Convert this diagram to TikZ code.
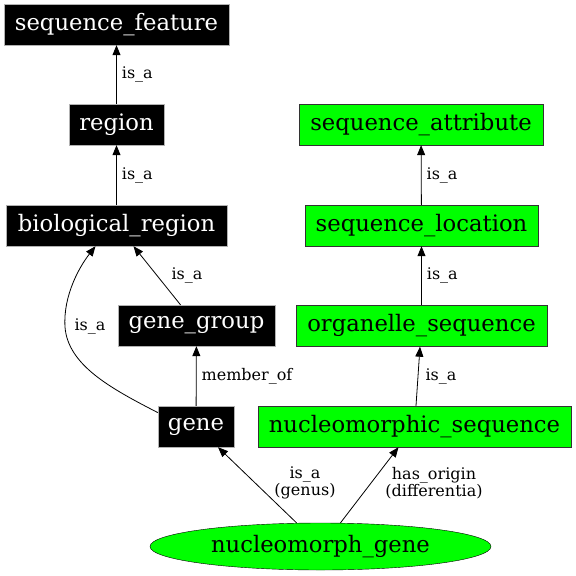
\documentclass[tikz,border=0pt]{standalone}
\usepackage{fontspec}
\setmainfont{DejaVu Serif}
\usetikzlibrary{arrows.meta,shapes.geometric}
\definecolor{gvgreen}{RGB}{0,255,0}
\tikzset{
  x=1pt,y=-1pt,
  blackbox/.style={rectangle,fill=black,draw=gray!60,text=white,inner sep=0pt,
    font=\fontsize{22.7}{24}\selectfont},
  greenbox/.style={rectangle,fill=gvgreen,draw=black!80,text=black,inner sep=0pt,
    font=\fontsize{22.7}{24}\selectfont},
  edge/.style={draw=black,line width=0.8pt,-{Triangle[length=10pt,width=8pt]}},
  elabel/.style={font=\fontsize{16}{17.5}\selectfont,align=center,inner sep=0pt}
}
\begin{document}
\begin{tikzpicture}
\useasboundingbox (0,0) rectangle (576,576);
% black nodes
\node[blackbox,minimum width=225pt,minimum height=41pt] (sf) at (116.5,24.5) {sequence\_feature};
\node[blackbox,minimum width=95pt,minimum height=41pt] (reg) at (116.5,124.5) {region};
\node[blackbox,minimum width=221pt,minimum height=41pt] (bio) at (116.5,225.5) {biological\_region};
\node[blackbox,minimum width=157pt,minimum height=41pt] (gg) at (196.5,325.5) {gene\_group};
\node[blackbox,minimum width=76pt,minimum height=41pt] (gene) at (196,426.5) {gene};
% green nodes
\node[greenbox,minimum width=244pt,minimum height=41pt] (sa) at (421,124.5) {sequence\_attribute};
\node[greenbox,minimum width=233pt,minimum height=41pt] (sl) at (421.5,225.5) {sequence\_location};
\node[greenbox,minimum width=251pt,minimum height=41pt] (os) at (421.5,326) {organelle\_sequence};
\node[greenbox,minimum width=313pt,minimum height=41pt] (ns) at (414.5,426.5) {nucleomorphic\_sequence};
\node[ellipse,fill=gvgreen,draw=black,inner sep=0pt,minimum width=341pt,minimum height=47pt,
  font=\fontsize{22.7}{24}\selectfont] (ng) at (320.5,546.5) {nucleomorph\_gene};
% edges
\draw[edge] (reg) -- (sf) node[elabel,pos=0.5,right=5pt] {is\_a};
\draw[edge] (bio) -- (reg) node[elabel,pos=0.5,right=5pt] {is\_a};
\draw[edge] ([xshift=-16pt]gg.north) -- ([xshift=17pt]bio.south);
\node[elabel] at (187,275) {is\_a};
\draw[edge] (gene.160) .. controls (110,388) and (68,365) .. (65,327) .. controls (63,295) and (80,266) .. ([xshift=-21pt]bio.south);
\node[elabel] at (90,326) {is\_a};
\draw[edge] (gene) -- (gg) node[elabel,pos=0.5,right=5pt] {member\_of};
\draw[edge] (sl) -- (sa) node[elabel,pos=0.5,right=5pt] {is\_a};
\draw[edge] (os) -- (sl) node[elabel,pos=0.5,right=5pt] {is\_a};
\draw[edge] ([xshift=1.5pt]ns.north) -- ([xshift=-1.5pt]os.south);
\node[elabel] at (441,376) {is\_a};
\draw[edge] ([xshift=-24pt]ng.north) -- ([xshift=22pt]gene.south);
\node[elabel] at (305,483) {is\_a\\(genus)};
\draw[edge] ([xshift=20pt]ng.north) -- ([xshift=-16pt]ns.south);
\node[elabel] at (434,483) {has\_origin\\(differentia)};
\end{tikzpicture}
\end{document}
